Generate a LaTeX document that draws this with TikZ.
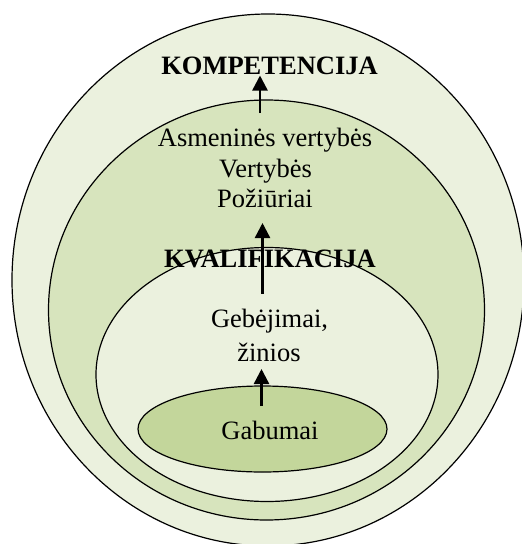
\documentclass[tikz,border=0pt]{standalone}
\usepackage{fontspec}
\setmainfont{Liberation Serif}
\usetikzlibrary{shapes.geometric,arrows.meta}
\definecolor{lightg}{HTML}{EBF1DE}
\definecolor{midg}{HTML}{D7E4BD}
\definecolor{darkg}{HTML}{C3D69B}
\begin{document}
\begin{tikzpicture}[x=1pt,y=-1pt,
 ring/.style={ellipse,draw=black,line width=1.2pt,inner sep=0pt},
 txt/.style={font=\fontsize{26.5}{30}\selectfont,inner sep=0pt,anchor=base},
 boldtxt/.style={font=\fontsize{26.5}{30}\selectfont\bfseries,inner sep=0pt,anchor=base},
 arr/.style={line width=2.4pt,-{Triangle[width=15pt,length=15pt]}}]
\useasboundingbox (0,0) rectangle (522,544);
\node[ring,fill=lightg,minimum width=512pt,minimum height=532pt] (komp) at (268,280) {};
\node[ring,fill=midg,minimum width=436pt,minimum height=420pt] (vert) at (266.5,310) {};
\node[ring,fill=lightg,minimum width=342pt,minimum height=254pt] (kval) at (267,374.5) {};
\node[ring,fill=darkg,minimum width=249pt,minimum height=86pt] (gab) at (262.5,429) {};
\node[txt] (gabt) at (270,439) {Gabumai};
\node[boldtxt] (kompt) at (269.5,74.5) {KOMPETENCIJA};
\node[txt] (val1) at (265,146) {Asmeninės vertybės};
\node[txt] (val2) at (265.5,177) {Vertybės};
\node[txt] (val3) at (265,207) {Požiūriai};
\node[boldtxt] (kvalt) at (270,267) {KVALIFIKACIJA};
\node[txt] (geb1) at (269.5,327) {Gebėjimai,};
\node[txt] (geb2) at (269,361) {žinios};
\coordinate (a1s) at (261.5,406);
\coordinate (a1e) at (261.5,369);
\coordinate (a2s) at (262.5,293.5);
\coordinate (a2e) at (262.5,223);
\coordinate (a3s) at (260,113);
\coordinate (a3e) at (260,75.5);
\draw[arr] (a1s) -- (a1e);
\draw[arr] (a2s) -- (a2e);
\draw[arr] (a3s) -- (a3e);
\end{tikzpicture}
\end{document}
